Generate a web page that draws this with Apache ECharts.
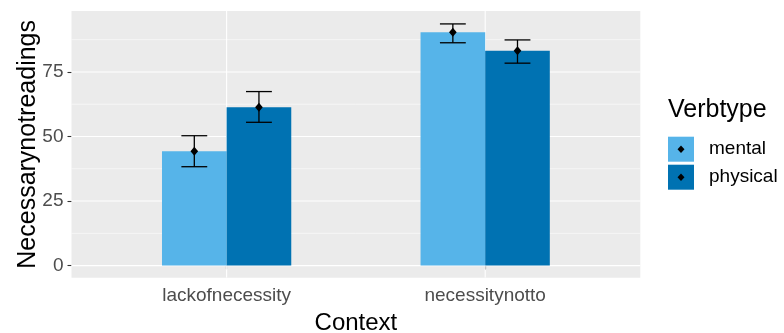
<!DOCTYPE html>
<html><head><meta charset="utf-8">
<script src="https://cdn.jsdelivr.net/npm/echarts@6/dist/echarts.min.js"></script>
<style>html,body{margin:0;padding:0;background:#fff}#c{width:784px;height:333px}</style>
</head><body><div id="c"></div>
<script>
// ---- data ----
const categories = ['lackofnecessity', 'necessitynotto'];
const verbTypes = ['mental', 'physical'];
const mentalMean = [44.3, 90.4];
const mentalLow = [38.3, 86.3];
const mentalHigh = [50.3, 93.6];
const physicalMean = [61.3, 83.2];
const physicalLow = [55.5, 78.4];
const physicalHigh = [67.4, 87.4];
const yTicks = [0, 25, 50, 75];
const yMinorTicks = [12.5, 37.5, 62.5, 87.5];

const FONT = 'Liberation Sans, Arial, sans-serif';
const colors = {mental: '#56B4E9', physical: '#0072B2'};
const dodge = {mental: -0.125, physical: 0.125};
const barHalf = 0.125, capHalf = 0.05;

function barSeries(name, means) {
  return {
    name: name, type: 'custom', z: 3, silent: true,
    itemStyle: {color: colors[name]},
    data: means.map((v, i) => [i + 1, v]),
    renderItem: function (params, api) {
      const x = api.value(0) + dodge[name];
      const p0 = api.coord([x - barHalf, api.value(1)]);
      const p1 = api.coord([x + barHalf, 0]);
      return {type: 'rect', shape: {x: p0[0], y: p0[1], width: p1[0] - p0[0], height: p1[1] - p0[1]},
              style: {fill: colors[name]}};
    }
  };
}
function errSeries(name, means, lows, highs) {
  return {
    name: name + '-err', type: 'custom', z: 4, silent: true,
    data: means.map((v, i) => [i + 1, v, lows[i], highs[i]]),
    renderItem: function (params, api) {
      const x = api.value(0) + dodge[name];
      const m = api.coord([x, api.value(1)]);
      const lo = api.coord([x, api.value(2)]);
      const hi = api.coord([x, api.value(3)]);
      const l = api.coord([x - capHalf, api.value(2)])[0];
      const r = api.coord([x + capHalf, api.value(2)])[0];
      const ls = {stroke: '#000', lineWidth: 1.3};
      const d = 4.5;
      return {type: 'group', children: [
        {type: 'line', shape: {x1: lo[0], y1: lo[1], x2: hi[0], y2: hi[1]}, style: ls},
        {type: 'line', shape: {x1: l, y1: lo[1], x2: r, y2: lo[1]}, style: ls},
        {type: 'line', shape: {x1: l, y1: hi[1], x2: r, y2: hi[1]}, style: ls},
        {type: 'polygon', shape: {points: [[m[0], m[1] - d], [m[0] + d * 0.85, m[1]], [m[0], m[1] + d], [m[0] - d * 0.85, m[1]]]},
         style: {fill: '#000'}}
      ]};
    }
  };
}

// gridlines drawn through the axes' scales
const gridData = [];
yTicks.forEach(v => gridData.push([0, v, 1.1]));
yMinorTicks.forEach(v => gridData.push([0, v, 0.55]));
categories.forEach((c, i) => gridData.push([1, i + 1, 1.1]));

const chart = echarts.init(document.getElementById('c'), null, {renderer: 'canvas'});
chart.setOption({
  animation: false,
  backgroundColor: '#fff',
  grid: {left: 71.5, right: 143.7, top: 11, bottom: 55.3, show: true, backgroundColor: '#EBEBEB', borderWidth: 0,
         containLabel: false, outerBoundsMode: 'none'},
  xAxis: {
    type: 'value', min: 0.4, max: 2.6,
    name: 'Context', nameLocation: 'middle', nameGap: 34, nameMoveOverlap: false,
    nameTextStyle: {fontFamily: FONT, fontSize: 24, color: '#000'},
    axisLine: {show: false},
    splitLine: {show: false},
    axisTick: {show: true, length: 4, lineStyle: {color: '#333', width: 1.1}, customValues: categories.map((c, i) => i + 1)},
    axisLabel: {show: true, margin: 9, fontFamily: FONT, fontSize: 19, color: '#4D4D4D',
      customValues: categories.map((c, i) => i + 1),
      formatter: v => categories[Math.round(v) - 1] || ''}
  },
  yAxis: {
    type: 'value', min: -4.68, max: 98.6,
    name: 'Necessarynotreadings', nameLocation: 'middle', nameGap: 31, nameMoveOverlap: false,
    nameTextStyle: {fontFamily: FONT, fontSize: 25, color: '#000'},
    axisLine: {show: false},
    splitLine: {show: false},
    axisTick: {show: true, length: 4, lineStyle: {color: '#333', width: 1.1}, customValues: yTicks},
    axisLabel: {show: true, margin: 8, fontFamily: FONT, fontSize: 19, color: '#4D4D4D', customValues: yTicks}
  },
  legend: {
    data: verbTypes, orient: 'vertical', left: 668, top: 136.7, padding: 0,
    itemWidth: 26, itemHeight: 25, itemGap: 3, icon: 'rect', selectedMode: false,
    itemStyle: {borderWidth: 0},
    textStyle: {fontFamily: FONT, fontSize: 19, color: '#000', padding: [7, 0, 0, 10]}
  },
  graphic: [
    {type: 'text', left: 668, top: 98, z: 100, style: {text: 'Verbtype', font: '25px ' + FONT, fill: '#000'}},
    {type: 'polygon', z: 100, shape: {points: [[681, 145.5], [684.5, 149.2], [681, 153], [677.5, 149.2]]}, style: {fill: '#000'}},
    {type: 'polygon', z: 100, shape: {points: [[681, 173.5], [684.5, 177.2], [681, 181], [677.5, 177.2]]}, style: {fill: '#000'}}
  ],
  series: [
    {type: 'custom', name: 'grid', z: 1, silent: true, clip: true,
     data: gridData,
     renderItem: function (params, api) {
       const isX = api.value(0) === 1, v = api.value(1), w = api.value(2);
       let a, b;
       if (isX) { a = api.coord([v, 98.6]); b = api.coord([v, -4.68]); }
       else { a = api.coord([0.4, v]); b = api.coord([2.6, v]); }
       return {type: 'line', shape: {x1: a[0], y1: a[1], x2: b[0], y2: b[1]}, style: {stroke: '#fff', lineWidth: w}};
     }},
    barSeries('mental', mentalMean),
    barSeries('physical', physicalMean),
    errSeries('mental', mentalMean, mentalLow, mentalHigh),
    errSeries('physical', physicalMean, physicalLow, physicalHigh)
  ]
});
</script></body></html>
